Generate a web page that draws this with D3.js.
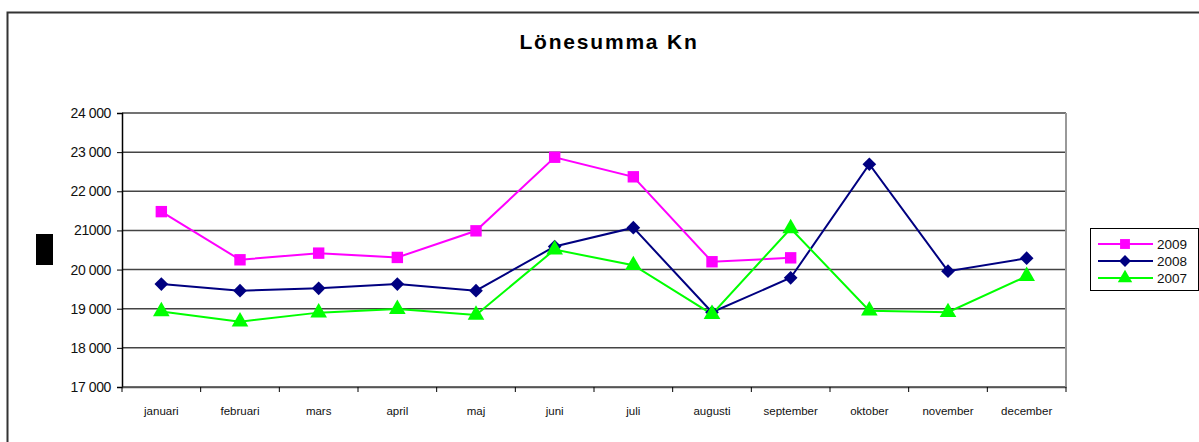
<!DOCTYPE html>
<html>
<head>
<meta charset="utf-8">
<script src="https://cdnjs.cloudflare.com/ajax/libs/d3/7.8.5/d3.min.js"></script>
<style>
  body { margin: 0; background: #fff; }
  text { font-family: "Liberation Sans", Arial, sans-serif; }
</style>
</head>
<body>
<div id="chart"></div>
<script>
// data
var months = ["januari", "februari", "mars", "april", "maj", "juni", "juli", "augusti", "september", "oktober", "november", "december"];
var y2009 = [21480, 20250, 20420, 20310, 20990, 22870, 22370, 20200, 20300, null, null, null];
var y2008 = [19630, 19460, 19520, 19630, 19460, 20590, 21070, 18910, 19790, 22690, 19960, 20290];
var y2007 = [18930, 18670, 18900, 18990, 18840, 20510, 20110, 18860, 21050, 18950, 18910, 19830];
var yTicks = [17000, 18000, 19000, 20000, 21000, 22000, 23000, 24000];
var yTickLabels = ["17 000", "18 000", "19 000", "20 000", "21000", "22 000", "23 000", "24 000"];

// marker shapes
var squareSym = { draw: function (ctx, size) { var r = Math.sqrt(size) / 2; ctx.rect(-r, -r, 2 * r, 2 * r); } };
var diamondSym = { draw: function (ctx, size) { var r = Math.sqrt(size) / 2 * 1.25; ctx.moveTo(0, -r); ctx.lineTo(r, 0); ctx.lineTo(0, r); ctx.lineTo(-r, 0); ctx.closePath(); } };

var series = [
    { name: "2009", values: y2009, color: "#ff00ff", shape: squareSym, size: 130 },
    { name: "2008", values: y2008, color: "#000080", shape: diamondSym, size: 120 },
    { name: "2007", values: y2007, color: "#00ff00", shape: d3.symbolTriangle, size: 120 }
];

var W = 1199, H = 442;
var margin = { top: 113, left: 122 },
    width = 1066 - 122,
    height = 387 - 113;

var svg = d3.select("#chart").append("svg")
    .attr("width", W)
    .attr("height", H);

// outer chart border
svg.append("rect")
    .attr("x", 7.5).attr("y", 12.5)
    .attr("width", 1200).attr("height", 450)
    .attr("fill", "none")
    .attr("stroke", "#333")
    .attr("stroke-width", 2);

// title
svg.append("text")
    .attr("x", 609).attr("y", 49)
    .attr("text-anchor", "middle")
    .style("font-size", "21px")
    .style("font-weight", "bold")
    .style("letter-spacing", "1.8px")
    .text("Lönesumma Kn");

// y-axis title placeholder (black block)
svg.append("rect")
    .attr("x", 36).attr("y", 234)
    .attr("width", 17).attr("height", 31)
    .attr("fill", "#000");

var g = svg.append("g")
    .attr("transform", "translate(" + margin.left + "," + margin.top + ")");

var x = d3.scaleBand().domain(months).range([0, width]);
var y = d3.scaleLinear().domain([17000, 24000]).range([height, 0]);

// gridlines
g.selectAll(".grid")
    .data(yTicks)
    .enter()
    .append("line")
    .attr("x1", 0).attr("x2", width)
    .attr("y1", function (d) { return y(d); })
    .attr("y2", function (d) { return y(d); })
    .attr("stroke", "#444")
    .attr("stroke-width", 1.5);

// right border of plot area
g.append("line")
    .attr("x1", width).attr("x2", width)
    .attr("y1", 0).attr("y2", height)
    .attr("stroke", "#999")
    .attr("stroke-width", 2);

// Y axis
var yAxis = g.append("g")
    .call(d3.axisLeft(y).tickValues(yTicks).tickSize(5).tickPadding(6)
        .tickFormat(function (d, i) { return yTickLabels[i]; }));
yAxis.select(".domain").attr("stroke", "#000").attr("stroke-width", 1.5);
yAxis.selectAll(".tick line").attr("stroke", "#000");
yAxis.selectAll("text").style("font-size", "14px").attr("fill", "#111")
    .style("letter-spacing", "-0.4px")
    .style("font-family", "'Liberation Sans', Arial, sans-serif");

// X axis
var xAxis = g.append("g")
    .attr("transform", "translate(0," + height + ")")
    .call(d3.axisBottom(x).tickSize(0).tickPadding(20));
xAxis.select(".domain").attr("stroke", "#555").attr("stroke-width", 1.5);
xAxis.selectAll("text").style("font-size", "11.5px").attr("fill", "#111")
    .style("font-family", "'Liberation Sans', Arial, sans-serif");
// category boundary ticks
xAxis.selectAll(".bound")
    .data(months.concat(["end"]))
    .enter()
    .append("line")
    .attr("x1", function (d, i) { return i * x.step(); })
    .attr("x2", function (d, i) { return i * x.step(); })
    .attr("y1", 0).attr("y2", 5)
    .attr("stroke", "#000");

var cx = function (d, i) { return x(months[i]) + x.bandwidth() / 2; };

var line = d3.line()
    .defined(function (d) { return d != null; })
    .x(cx)
    .y(function (d) { return y(d); });

series.forEach(function (s) {
    g.append("path")
        .datum(s.values)
        .attr("fill", "none")
        .attr("stroke", s.color)
        .attr("stroke-width", 2)
        .attr("d", line);
});

series.forEach(function (s) {
    var pts = s.values
        .map(function (v, i) { return { v: v, i: i }; })
        .filter(function (p) { return p.v != null; });
    g.selectAll(".m" + s.name)
        .data(pts)
        .enter()
        .append("path")
        .attr("d", d3.symbol().type(s.shape).size(s.size))
        .attr("transform", function (p) {
            return "translate(" + cx(p.v, p.i) + "," + y(p.v) + ")";
        })
        .attr("fill", s.color);
});

// legend
var leg = svg.append("g");
leg.append("rect")
    .attr("x", 1090.5).attr("y", 228.5)
    .attr("width", 108).attr("height", 62)
    .attr("fill", "#fff")
    .attr("stroke", "#000")
    .attr("stroke-width", 1);

series.forEach(function (s, i) {
    var ly = 244 + i * 17;
    leg.append("line")
        .attr("x1", 1098).attr("x2", 1153)
        .attr("y1", ly).attr("y2", ly)
        .attr("stroke", s.color).attr("stroke-width", 2);
    leg.append("path")
        .attr("d", d3.symbol().type(s.shape).size(s.size * 0.75))
        .attr("transform", "translate(1125," + ly + ")")
        .attr("fill", s.color);
    leg.append("text")
        .attr("x", 1157).attr("y", ly + 5)
        .style("font-size", "13.5px")
        .attr("fill", "#111")
        .text(s.name);
});
</script>
</body>
</html>
